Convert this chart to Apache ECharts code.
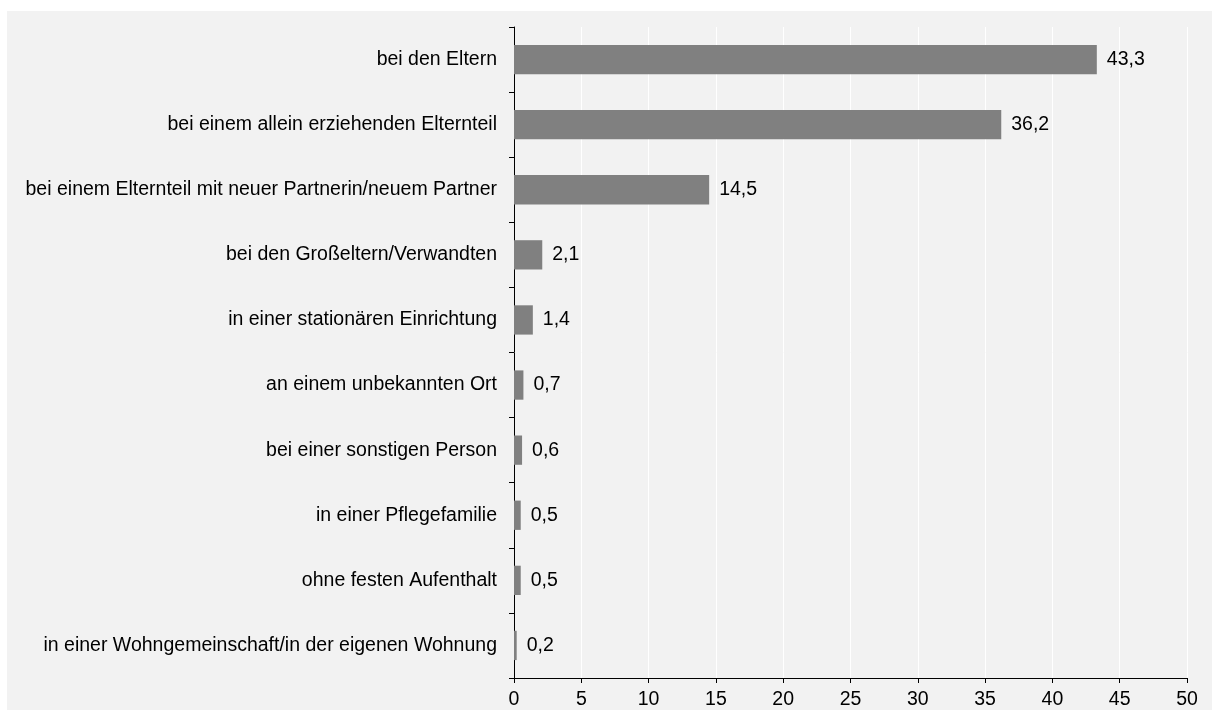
<!DOCTYPE html>
<html><head><meta charset="utf-8">
<script src="https://cdn.jsdelivr.net/npm/echarts@6/dist/echarts.min.js"></script>
<style>html,body{margin:0;padding:0;background:#fff;}#c{width:1212px;height:710px;}</style>
</head><body><div id="c"></div>
<script>
const categories = [
  "bei den Eltern",
  "bei einem allein erziehenden Elternteil",
  "bei einem Elternteil mit neuer Partnerin/neuem Partner",
  "bei den Großeltern/Verwandten",
  "in einer stationären Einrichtung",
  "an einem unbekannten Ort",
  "bei einer sonstigen Person",
  "in einer Pflegefamilie",
  "ohne festen Aufenthalt",
  "in einer Wohngemeinschaft/in der eigenen Wohnung"
];
const values = [43.3, 36.2, 14.5, 2.1, 1.4, 0.7, 0.6, 0.5, 0.5, 0.2];
const xTicks = [0, 5, 10, 15, 20, 25, 30, 35, 40, 45, 50];

const font = "'Liberation Sans', Arial, sans-serif";
const fs = 19.5;
const chart = echarts.init(document.getElementById('c'), null, {renderer: 'canvas'});
chart.setOption({
  backgroundColor: 'transparent',
  animation: false,
  graphic: [{type: 'rect', z: -10, silent: true, shape: {x: 7, y: 11, width: 1205, height: 699}, style: {fill: '#f2f2f2'}}],
  grid: {left: 514, right: 25, top: 27, bottom: 32, containLabel: false},
  xAxis: {
    type: 'value', min: xTicks[0], max: xTicks[xTicks.length - 1], interval: 5,
    axisLine: {show: true, lineStyle: {color: '#000', width: 1}},
    axisTick: {show: true, length: 5, lineStyle: {color: '#000'}},
    axisLabel: {color: '#000', fontSize: fs, fontFamily: font, margin: 12},
    splitLine: {show: true, lineStyle: {color: '#ffffff', width: 1}}
  },
  yAxis: {
    type: 'category', data: categories, inverse: true,
    axisLine: {show: true, lineStyle: {color: '#000', width: 1}},
    axisTick: {show: true, length: 5, lineStyle: {color: '#000'}},
    axisLabel: {color: '#000', fontSize: fs, fontFamily: font, margin: 17},
    splitLine: {show: false}
  },
  series: [{
    type: 'bar', data: values, barWidth: '45%',
    itemStyle: {color: '#808080'},
    label: {show: true, position: 'right', distance: 10, color: '#000', fontSize: fs, fontFamily: font,
      formatter: p => p.value.toFixed(1).replace('.', ',')}
  }]
});
</script></body></html>
